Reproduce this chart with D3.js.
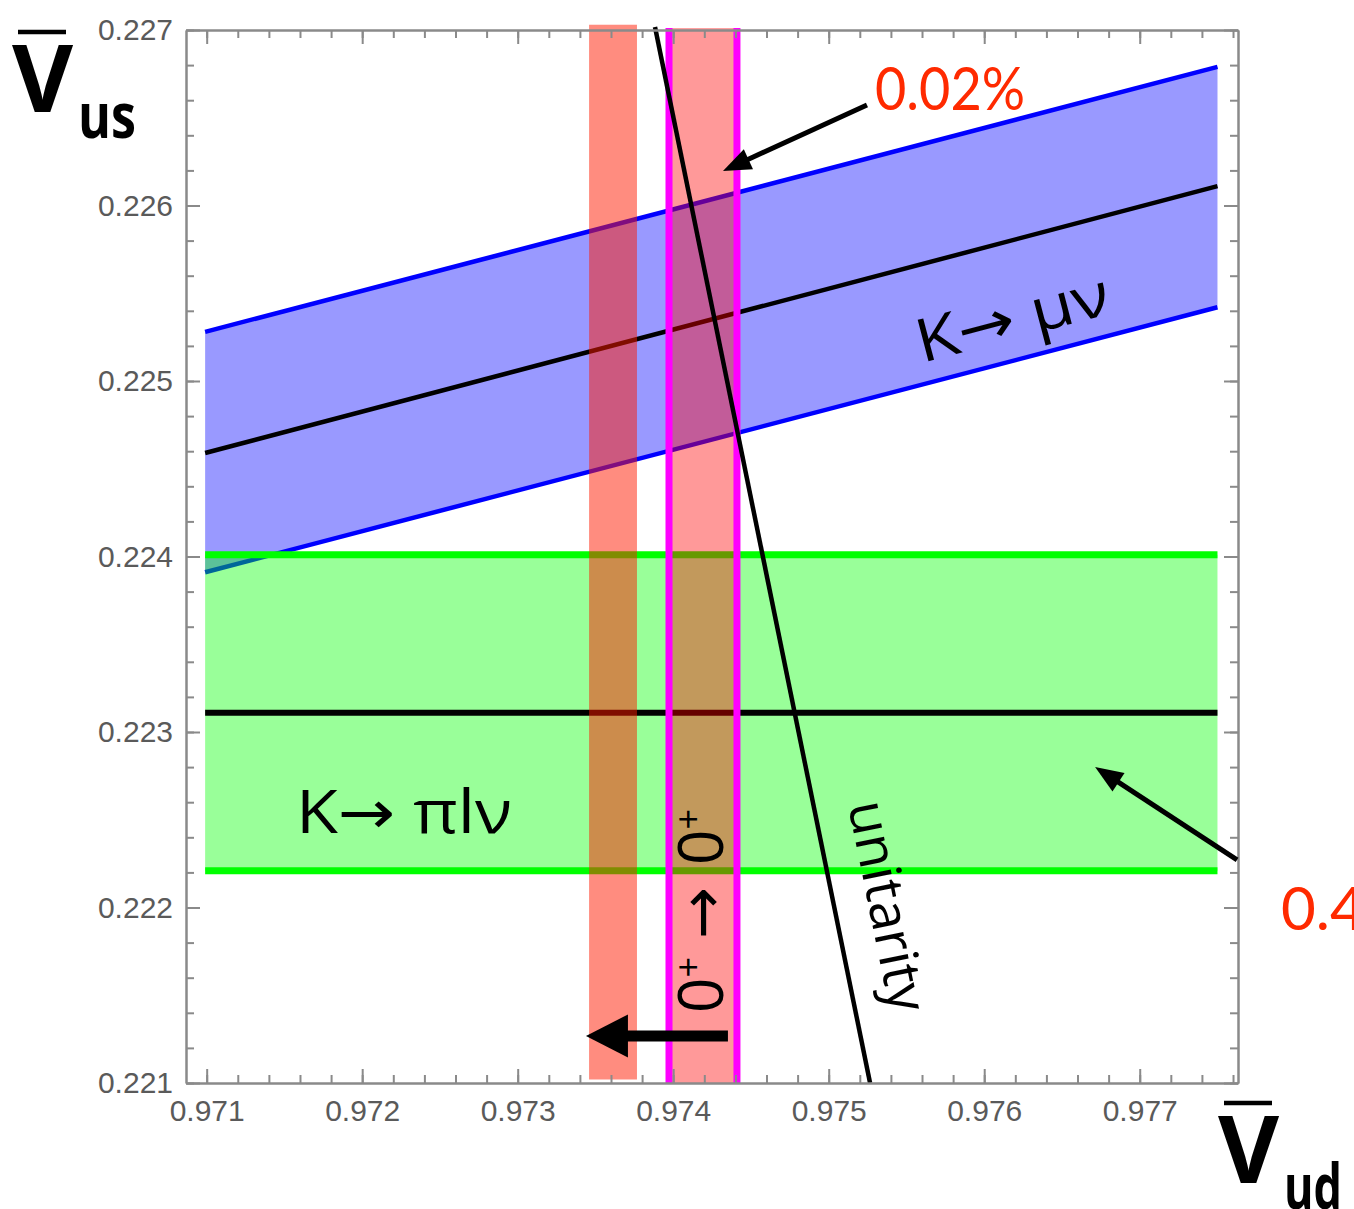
<!DOCTYPE html>
<html lang="en">
  <head>
    <meta charset="utf-8">
    <title>Vud - Vus</title>
    <style>
      body { margin: 0; background: #fff; }
      svg { display: block; }
      .tick text { font-family: "Liberation Sans", Arial, sans-serif; font-size: 30px; fill: #5a5a5a; }
      .lbl { font-family: "Open Sans", "DejaVu Sans", sans-serif; fill: #000; }
      .red { font-family: Lato, "Open Sans", sans-serif; fill: #ff2a00; font-size: 60px; }
    </style>
  </head>
  <body>
    <svg id="chart" width="1354" height="1209"></svg>

    <script src="https://d3js.org/d3.v7.min.js"></script>
    <script>
      // axis ranges and tick values
      const xDomain = [0.970867, 0.977632];
      const yDomain = [0.221, 0.227];
      const xTicks = [0.971, 0.972, 0.973, 0.974, 0.975, 0.976, 0.977];
      const yTicks = [0.221, 0.222, 0.223, 0.224, 0.225, 0.226, 0.227];
      const tickLabelFormat = ".3f";

      // K -> mu nu band (blue), two ends in Vud
      const bandX = [0.97099, 0.9775];
      const kmunuUpper = [0.22528, 0.22679];
      const kmunuCentral = [0.22459, 0.22611];
      const kmunuLower = [0.22391, 0.22542];

      // K -> pi l nu band (green)
      const kpilnuUpper = [0.22401, 0.22401];
      const kpilnuCentral = [0.22311, 0.22311];
      const kpilnuLower = [0.22221, 0.22221];

      // 0+ -> 0+ bands in Vud
      const shiftedBand = [0.973459, 0.973767];
      const shiftedBandY = [0.22102, 0.22703];
      const superallowedBand = [0.973973, 0.97441];
      const superallowedBandY = [0.221, 0.227011];

      // unitarity line end points [Vud, Vus]
      const unitarity = [[0.973883, 0.227017], [0.975266, 0.221]];

      // annotation arrows, [tail, tip] in data units
      const arrowPct = [[0.975246, 0.226573], [0.97432, 0.226197]];
      const arrowGreen = [[0.977626, 0.222271], [0.976713, 0.222801]];
      const arrowShift = [[0.974352, 0.221268], [0.973439, 0.221268]];

      const svg = d3.select("#chart");
      const x = d3.scaleLinear().domain(xDomain).range([186, 1238]);
      const y = d3.scaleLinear().domain(yDomain).range([1083, 30]);

      const seg = (xs, ys) => xs.map((v, i) => [x(v), y(ys[i])]);
      const line = d3.line();

      // blue band
      const blueArea = seg(bandX, kmunuUpper).concat(seg(bandX, kmunuLower).reverse());
      svg.append("path").attr("d", line(blueArea) + "Z")
        .attr("fill", "#0000ff").attr("fill-opacity", 0.4);
      [kmunuUpper, kmunuLower].forEach(l => {
        svg.append("path").attr("d", line(seg(bandX, l)))
          .attr("stroke", "#0000ff").attr("stroke-width", 4.5).attr("fill", "none");
      });
      svg.append("path").attr("d", line(seg(bandX, kmunuCentral)))
        .attr("stroke", "#000").attr("stroke-width", 4.5).attr("fill", "none");

      // green band
      const greenArea = seg(bandX, kpilnuUpper).concat(seg(bandX, kpilnuLower).reverse());
      svg.append("path").attr("d", line(greenArea) + "Z")
        .attr("fill", "#00ff00").attr("fill-opacity", 0.4);
      [kpilnuUpper, kpilnuLower].forEach(l => {
        svg.append("path").attr("d", line(seg(bandX, l)))
          .attr("stroke", "#00ff00").attr("stroke-width", 7).attr("fill", "none");
      });
      svg.append("path").attr("d", line(seg(bandX, kpilnuCentral)))
        .attr("stroke", "#000").attr("stroke-width", 6).attr("fill", "none");

      // vertical bands
      svg.append("rect")
        .attr("x", x(shiftedBand[0])).attr("width", x(shiftedBand[1]) - x(shiftedBand[0]))
        .attr("y", y(shiftedBandY[1])).attr("height", y(shiftedBandY[0]) - y(shiftedBandY[1]))
        .attr("fill", "rgb(255,25,0)").attr("fill-opacity", 0.5);
      svg.append("rect")
        .attr("x", x(superallowedBand[0])).attr("width", x(superallowedBand[1]) - x(superallowedBand[0]))
        .attr("y", y(superallowedBandY[1])).attr("height", y(superallowedBandY[0]) - y(superallowedBandY[1]))
        .attr("fill", "#ff0000").attr("fill-opacity", 0.4);
      superallowedBand.forEach(v => {
        svg.append("line").attr("x1", x(v)).attr("x2", x(v))
          .attr("y1", y(superallowedBandY[1])).attr("y2", y(superallowedBandY[0]))
          .attr("stroke", "#ff00ff").attr("stroke-width", 7);
      });

      // unitarity
      svg.append("path").attr("d", line(unitarity.map(d => [x(d[0]), y(d[1])])))
        .attr("stroke", "#000").attr("stroke-width", 4.5).attr("fill", "none");

      // frame with inward ticks
      const minorX = d3.range(0, 34).map(i => 0.971 + i * 0.0002).filter(v => v < xDomain[1]);
      const minorY = d3.range(0, 31).map(i => 0.221 + i * 0.0002);
      const fmt = d3.format(tickLabelFormat);
      const frame = svg.append("g");
      const addAxis = (axis, tr) => {
        const g = frame.append("g").attr("transform", tr).call(axis);
        g.selectAll(".domain").attr("stroke", "#8a8a8a").attr("stroke-width", 2);
        g.selectAll(".tick line").attr("stroke", "#8a8a8a").attr("stroke-width", 2);
        return g;
      };
      addAxis(d3.axisBottom(x).tickValues(xTicks).tickSize(-14).tickSizeOuter(0).tickPadding(17).tickFormat(fmt), "translate(0,1083)");
      addAxis(d3.axisBottom(x).tickValues(minorX).tickSize(-8).tickSizeOuter(0).tickFormat(""), "translate(0,1083)");
      addAxis(d3.axisTop(x).tickValues(xTicks).tickSize(-14).tickSizeOuter(0).tickFormat(""), "translate(0,30)");
      addAxis(d3.axisTop(x).tickValues(minorX).tickSize(-8).tickSizeOuter(0).tickFormat(""), "translate(0,30)");
      addAxis(d3.axisLeft(y).tickValues(yTicks).tickSize(-14).tickSizeOuter(0).tickPadding(13).tickFormat(fmt), "translate(186,0)");
      addAxis(d3.axisLeft(y).tickValues(minorY).tickSize(-8).tickSizeOuter(0).tickFormat(""), "translate(186,0)");
      addAxis(d3.axisRight(y).tickValues(yTicks).tickSize(-14).tickSizeOuter(0).tickFormat(""), "translate(1238,0)");
      addAxis(d3.axisRight(y).tickValues(minorY).tickSize(-8).tickSizeOuter(0).tickFormat(""), "translate(1238,0)");
      frame.selectAll(".tick text").attr("fill", null);

      // arrows
      function arrow(d, w, headLen, headW) {
        const x0 = x(d[0][0]), y0 = y(d[0][1]), x1 = x(d[1][0]), y1 = y(d[1][1]);
        const L = Math.hypot(x1 - x0, y1 - y0), ux = (x1 - x0) / L, uy = (y1 - y0) / L;
        const bx = x1 - ux * headLen, by = y1 - uy * headLen;
        svg.append("line").attr("x1", x0).attr("y1", y0)
          .attr("x2", bx + ux * 3).attr("y2", by + uy * 3)
          .attr("stroke", "#000").attr("stroke-width", w);
        svg.append("path")
          .attr("d", `M${x1},${y1}L${bx - uy * headW / 2},${by + ux * headW / 2}L${bx + uy * headW / 2},${by - ux * headW / 2}Z`)
          .attr("fill", "#000");
      }
      arrow(arrowPct, 5, 28, 22);
      arrow(arrowGreen, 5, 28, 22);
      arrow(arrowShift, 11, 42, 43);

      // band labels
      const angleOf = (p0, p1) => Math.atan2(p1[1] - p0[1], p1[0] - p0[0]) * 180 / Math.PI;
      const blueAngle = angleOf([x(bandX[0]), y(kmunuUpper[0])], [x(bandX[1]), y(kmunuUpper[1])]);
      const uniAngle = angleOf([x(unitarity[0][0]), y(unitarity[0][1])], [x(unitarity[1][0]), y(unitarity[1][1])]);

      svg.append("text").attr("class", "lbl")
        .attr("x", x(0.971575)).attr("y", y(0.222425))
        .attr("font-size", 60).attr("textLength", 216).attr("lengthAdjust", "spacingAndGlyphs")
        .text("K→ πlν");

      svg.append("text").attr("class", "lbl")
        .attr("transform", `translate(${x(0.9756)},${y(0.225103)}) rotate(${blueAngle})`)
        .attr("font-size", 60).attr("textLength", 198).attr("lengthAdjust", "spacingAndGlyphs")
        .text("K→ μν");

      svg.append("text").attr("class", "lbl")
        .attr("transform", `translate(${x(0.975124)},${y(0.222584)}) rotate(${uniAngle})`)
        .attr("font-size", 54).attr("textLength", 214).attr("lengthAdjust", "spacingAndGlyphs")
        .text("unitarity");

      const oo = svg.append("text").attr("class", "lbl")
        .attr("transform", `translate(${x(0.97432)},${y(0.221399)}) rotate(-90)`)
        .attr("font-size", 62);
      oo.append("tspan").text("0");
      oo.append("tspan").attr("font-size", 36).attr("dy", -22).text("+");
      oo.append("tspan").attr("dy", 22).attr("dx", 18).text("→");
      oo.append("tspan").attr("dx", 22).text("0");
      oo.append("tspan").attr("font-size", 36).attr("dy", -22).text("+");

      // percentages
      svg.append("text").attr("class", "red")
        .attr("x", x(0.975298)).attr("y", y(0.226544))
        .attr("textLength", 150).attr("lengthAdjust", "spacingAndGlyphs")
        .text("0.02%");
      svg.append("text").attr("class", "red")
        .attr("x", x(0.977909)).attr("y", y(0.221872))
        .text("0.4%");

      // axis titles
      const title = (tx, ty, sub) => {
        const g = svg.append("g").attr("transform", `translate(${tx},${ty})`);
        g.append("line").attr("x1", 3).attr("x2", 51).attr("y1", -80).attr("y2", -80)
          .attr("stroke", "#000").attr("stroke-width", 4.5);
        g.append("text").attr("class", "lbl").attr("font-weight", 700).attr("font-size", 94)
          .attr("x", -3).attr("y", 0).text("V");
        g.append("text").attr("class", "lbl").attr("font-weight", 700).attr("font-size", 62)
          .attr("x", 63).attr("y", 26).attr("textLength", 58).attr("lengthAdjust", "spacingAndGlyphs").text(sub);
      };
      title(15, 112, "us");
      title(1221, 1183, "ud");
    </script>
  </body>
</html>
